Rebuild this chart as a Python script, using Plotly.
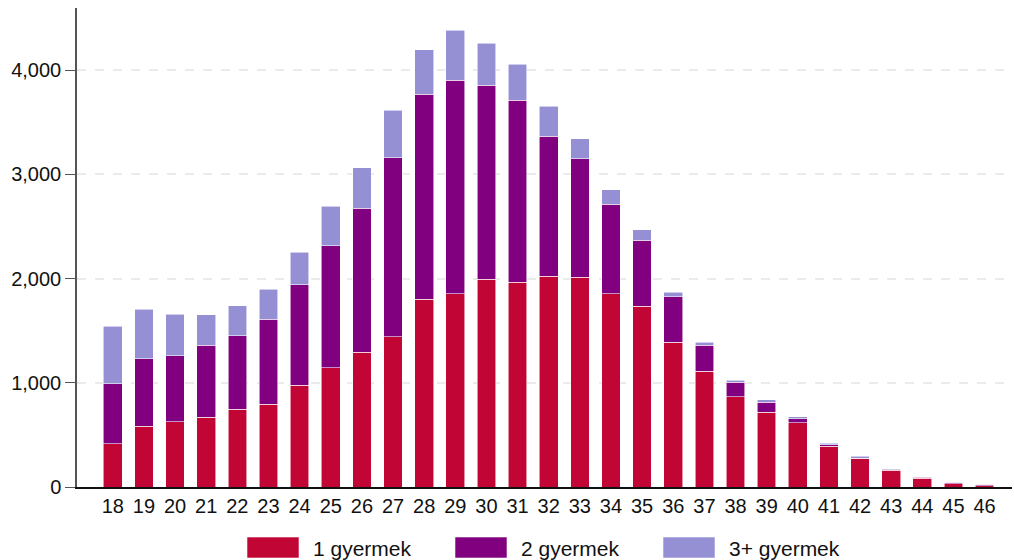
import plotly.graph_objects as go

ages = list(range(18, 47))
gyermek_1 = [416, 582, 627, 671, 748, 796, 978, 1145, 1295, 1439, 1800, 1854, 1995, 1966, 2024, 2011,
             1854, 1736, 1388, 1109, 866, 719, 614, 393, 269, 160, 83, 32, 10]
gyermek_2 = [575, 646, 633, 691, 704, 812, 963, 1170, 1378, 1720, 1966, 2050, 1861, 1743, 1343, 1138,
             857, 630, 435, 250, 138, 96, 41, 10, 6, 6, 10, 13, 16]
gyermek_3 = [553, 476, 396, 292, 287, 291, 313, 377, 390, 457, 429, 480, 403, 345, 284, 192,
             141, 102, 47, 29, 22, 20, 20, 19, 19, 7, 3, 3, 2]
series_names = ["1 gyermek", "2 gyermek", "3+ gyermek"]
colors = ["#C10534", "#800080", "#9590D3"]
y_ticks = [0, 1000, 2000, 3000, 4000]
y_tick_text = ["0", "1,000", "2,000", "3,000", "4,000"]

FONT = "Liberation Sans, Arial, sans-serif"

fig = go.Figure()
for name, vals, col in zip(series_names, [gyermek_1, gyermek_2, gyermek_3], colors):
    fig.add_trace(go.Bar(
        x=ages, y=vals, name=name, marker_color=col,
        marker_line=dict(color="rgba(255,255,255,0.7)", width=0.8),
        showlegend=False,
    ))

fig.update_layout(
    barmode="stack",
    bargap=0.4,
    width=1014, height=560,
    margin=dict(l=77, r=2, t=8, b=73),
    paper_bgcolor="white", plot_bgcolor="white",
    font=dict(family=FONT, size=20, color="#111"),
    xaxis=dict(
        range=[16.85, 46.88], tickmode="array", tickvals=ages,
        ticktext=[str(a) for a in ages], showgrid=False, zeroline=False,
        showline=True, linecolor="#111", linewidth=1.5, ticks="",
        tickfont=dict(size=20, family=FONT, color="#111"),
    ),
    yaxis=dict(
        range=[0, 4595], tickmode="array", tickvals=y_ticks, ticktext=y_tick_text,
        showgrid=True, gridcolor="#EBEBEB", griddash="dash", gridwidth=1.5,
        zeroline=False, showline=True, linecolor="#555", linewidth=1.5,
        ticks="outside", ticklen=10, tickcolor="#555", tickwidth=1.2,
        tickfont=dict(size=20, family=FONT, color="#111"),
    ),
)

# Legend drawn below the plot
legend_x = [247, 455, 663]
for i, (name, col) in enumerate(zip(series_names, colors)):
    fig.add_shape(type="rect", xref="paper", yref="paper",
                  x0=(legend_x[i] - 77) / 935, x1=(legend_x[i] + 52 - 77) / 935,
                  y0=(487 - 558) / 479, y1=(487 - 537) / 479,
                  fillcolor=col, line=dict(color="rgba(255,255,255,0.7)", width=0.8))
    fig.add_annotation(xref="paper", yref="paper",
                       x=(legend_x[i] + 64 - 77) / 935, y=(487 - 548) / 479,
                       text=name, showarrow=False, xanchor="left", yanchor="middle",
                       font=dict(size=21, family=FONT, color="#111"))

fig.write_html("out.html", config={"displayModeBar": False},
               post_script="document.body.style.margin='0';document.body.style.overflow='hidden';")
